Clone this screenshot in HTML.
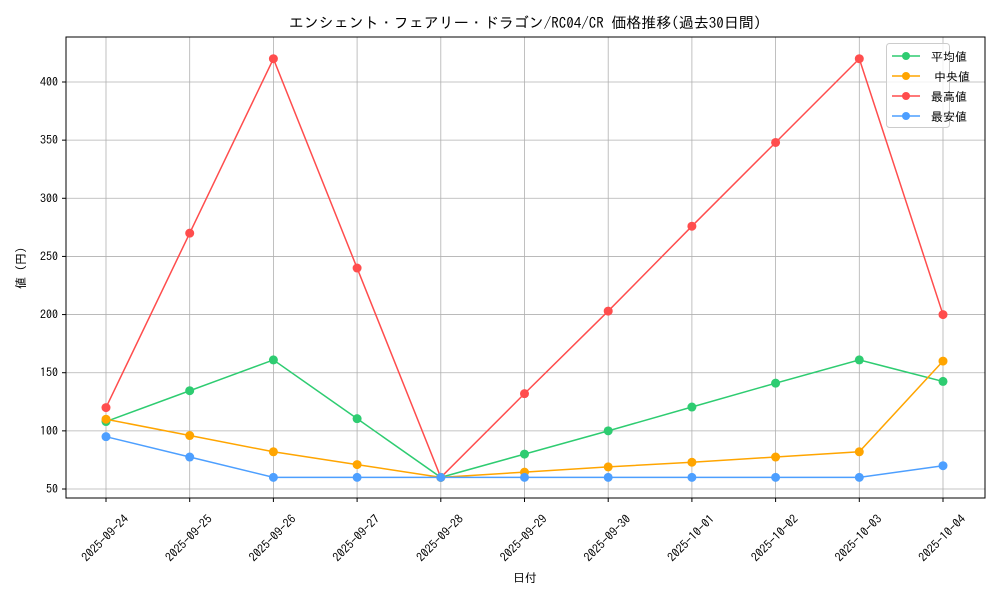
<!DOCTYPE html>
<html><head><meta charset="utf-8"><style>
body{margin:0;background:#fff;}
text{font-family:"IPAGothic","Noto Sans CJK JP",sans-serif;fill:#000;}
</style></head><body>
<svg id="s" width="1000" height="600" xmlns="http://www.w3.org/2000/svg">
<rect width="1000" height="600" fill="#fff"/>
<text x="525" y="28" font-size="15" text-anchor="middle">エンシェント・フェアリー・ドラゴン/RC04/CR 価格推移(過去30日間)</text>
<g id="grid"></g>
<rect x="66" y="37" width="919" height="461" fill="none" stroke="#000" stroke-width="1"/>
<g id="series"></g>
<text x="525" y="582" font-size="12" text-anchor="middle">日付</text>
<text transform="translate(25,268) rotate(-90)" font-size="12" text-anchor="middle">値 (円)</text>
<g>
<rect x="886.5" y="43.5" width="63" height="84" rx="3" fill="#fff" fill-opacity="0.8" stroke="#ccc"/>
<line x1="892" y1="56" x2="920" y2="56" stroke="#2ecc71" stroke-width="1.5"/><circle cx="906" cy="56" r="4" fill="#2ecc71"/><text x="931" y="61" font-size="12">平均値</text>
<line x1="892" y1="76" x2="920" y2="76" stroke="#ffa500" stroke-width="1.5"/><circle cx="906" cy="76" r="4" fill="#ffa500"/><text x="934" y="81" font-size="12">中央値</text>
<line x1="892" y1="96" x2="920" y2="96" stroke="#ff4d4d" stroke-width="1.5"/><circle cx="906" cy="96" r="4" fill="#ff4d4d"/><text x="931" y="101" font-size="12">最高値</text>
<line x1="892" y1="116" x2="920" y2="116" stroke="#4d9fff" stroke-width="1.5"/><circle cx="906" cy="116" r="4" fill="#4d9fff"/><text x="931" y="121" font-size="12">最安値</text>
</g>
</svg>
<script>
const ns="http://www.w3.org/2000/svg";
const X=i=>106+i*83.7, Y=v=>489-(v-50)*407/350;
const g=document.getElementById('grid'), s=document.getElementById('series');
function el(p,t,a,txt){const e=document.createElementNS(ns,t);for(const k in a)e.setAttribute(k,a[k]);if(txt)e.textContent=txt;p.appendChild(e);return e;}
const dates=["2025-09-24","2025-09-25","2025-09-26","2025-09-27","2025-09-28","2025-09-29","2025-09-30","2025-10-01","2025-10-02","2025-10-03","2025-10-04"];
dates.forEach((d,i)=>{const x=X(i);el(g,'line',{x1:x,x2:x,y1:37,y2:498,stroke:'#b0b0b0','stroke-width':0.8});
el(g,'line',{x1:x,x2:x,y1:498,y2:502,stroke:'#000'});
el(g,'text',{transform:`translate(${x+2},${541}) rotate(-45)`,'font-size':12,'text-anchor':'middle'},d);});
for(let v=50;v<=400;v+=50){const y=Y(v);el(g,'line',{x1:66,x2:985,y1:y,y2:y,stroke:'#b0b0b0','stroke-width':0.8});
el(g,'line',{x1:62,x2:66,y1:y,y2:y,stroke:'#000'});el(g,'text',{x:58,y:y+4,'font-size':12,'text-anchor':'end'},v);}
const data=[["#ff4d4d",[120,270,420,240,60,132,203,276,348,420,200]],
["#2ecc71",[108,134.5,161,110.5,60,80,100,120.5,141,161,142.5]],
["#ffa500",[110,96,82,71,60,64.5,69,73,77.5,82,160]],
["#4d9fff",[95,77.5,60,60,60,60,60,60,60,60,70]]];
data.forEach(([c,v])=>{el(s,'polyline',{points:v.map((a,i)=>X(i)+','+Y(a)).join(' '),fill:'none',stroke:c,'stroke-width':1.5});
v.forEach((a,i)=>el(s,'circle',{cx:X(i),cy:Y(a),r:4.5,fill:c}));});
</script>
</body></html>
